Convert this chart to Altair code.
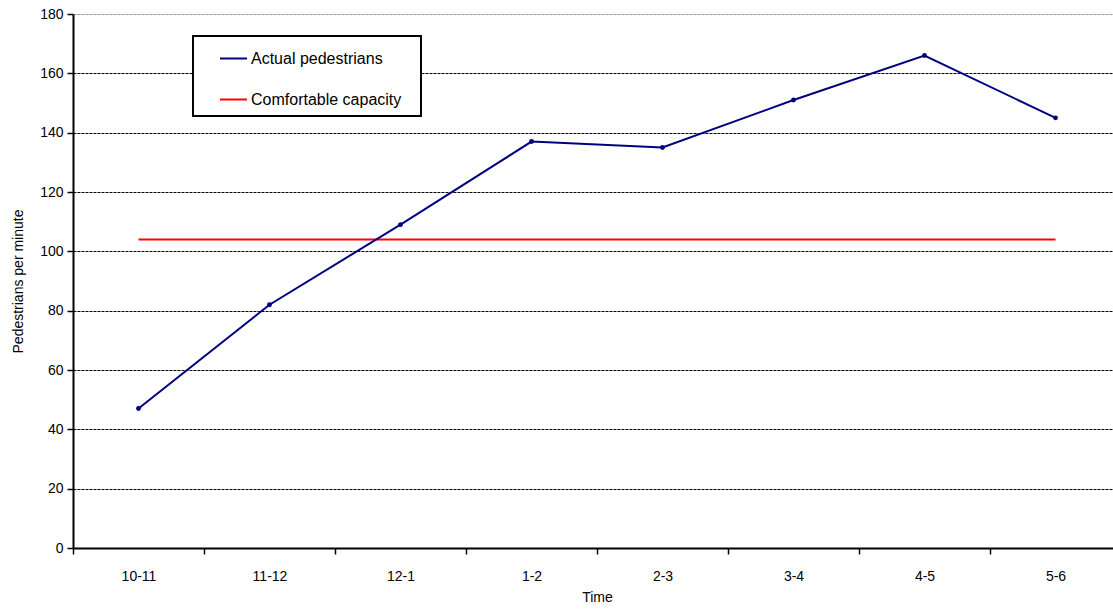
import altair as alt
import pandas as pd

# Hourly periods and observed pedestrian flows
periods = ["10-11", "11-12", "12-1", "1-2", "2-3", "3-4", "4-5", "5-6"]
actual = [47, 82, 109, 137, 135, 151, 166, 145]
capacity = [104, 104, 104, 104, 104, 104, 104, 104]
series_names = ["Actual pedestrians", "Comfortable capacity"]
series_colors = ["#000080", "#ff0000"]
y_ticks = [0, 20, 40, 60, 80, 100, 120, 140, 160, 180]

df = pd.DataFrame({
    "Time": periods + periods,
    "value": actual + capacity,
    "series": [series_names[0]] * len(periods) + [series_names[1]] * len(periods),
})

FONT = "Liberation Sans"

# Boxed legend; a blank title on the right side widens the frame
color = alt.Color(
    "series:N",
    scale=alt.Scale(domain=series_names, range=series_colors),
    legend=alt.Legend(
        title="\u00a0",
        titleOrient="right",
        titlePadding=12,
        titleFontSize=4,
        orient="none",
        legendX=120,
        legendY=22,
        direction="vertical",
        strokeColor="black",
        fillColor="white",
        padding=8,
        symbolOffset=18,
        symbolType="stroke",
        symbolStrokeWidth=2,
        symbolSize=729,
        rowPadding=18,
        labelFontSize=16,
        labelFont=FONT,
        labelColor="black",
        labelOffset=3,
        labelLimit=400,
    ),
)

# Eight hourly bands; the last band runs slightly past the right edge
x = alt.X(
    "Time:N",
    sort=periods,
    bandPosition=0.5,
    scale=alt.Scale(type="band", paddingInner=0, paddingOuter=0, range=[0, 1048]),
    axis=alt.Axis(
        title="Time",
        tickBand="extent",
        labelAngle=0,
        labelPadding=15,
        titlePadding=7,
    ),
)

y = alt.Y(
    "value:Q",
    scale=alt.Scale(domain=[0, 180], nice=False, zero=True),
    axis=alt.Axis(
        title="Pedestrians per minute",
        values=y_ticks,
        grid=True,
        gridDash=[3, 1],
        gridColor={"condition": {"test": "datum.value === 180", "value": "#999999"}, "value": "black"},
        gridWidth=1,
        labelPadding=4,
        titlePadding=14,
    ),
)

base = alt.Chart(df).encode(x=x, y=y, color=color)

actual_line = base.transform_filter(
    alt.datum.series == series_names[0]
).mark_line(strokeWidth=2, point=alt.OverlayMarkDef(filled=True, size=24, color="#000080"))

capacity_line = base.transform_filter(
    alt.datum.series == series_names[1]
).mark_line(strokeWidth=2)

chart = (
    alt.layer(capacity_line, actual_line)
    .properties(
        width=1040,
        height=534,
        autosize=alt.AutoSizeParams(type="none"),
        padding={"left": 73, "top": 14, "right": 0, "bottom": 62},
        background="white",
    )
    .configure_view(stroke=None)
    .configure_legend(strokeWidth=2)
    .configure_axis(
        domainColor="black",
        domainWidth=2,
        tickColor="black",
        tickWidth=1.5,
        tickSize=6,
        labelFont=FONT,
        labelFontSize=14,
        labelColor="black",
        titleFont=FONT,
        titleFontSize=14,
        titleFontWeight="normal",
        titleColor="black",
    )
)

chart.save("out.html", embed_options={"renderer": "svg", "actions": False})
